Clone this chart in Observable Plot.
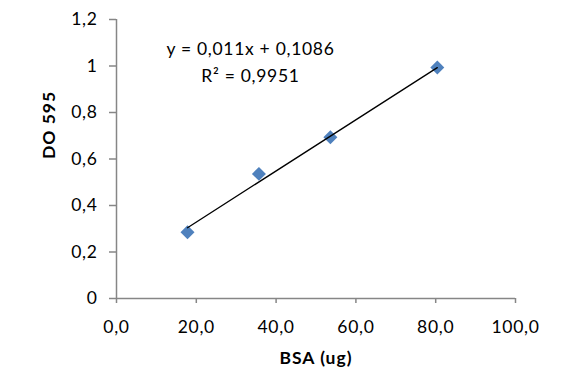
<!DOCTYPE html>
<html>
<head>
<meta charset="utf-8">
<script src="https://cdn.jsdelivr.net/npm/d3@7"></script>
<script src="https://cdn.jsdelivr.net/npm/@observablehq/plot@0.6"></script>
<style>
  html, body { margin: 0; padding: 0; background: #fff; }
  #chart { width: 572px; height: 384px; }
  #chart svg text { letter-spacing: 0.7px; }
  #chart svg .bold-label text { letter-spacing: 1px; }
</style>
</head>
<body>
<div id="chart"></div>
<script>
// Data
const bsa = [17.8, 35.7, 53.6, 80.4];          // x: BSA (ug)
const do595 = [0.285, 0.536, 0.694, 0.994];    // y: DO 595
const xTicks = [0, 20, 40, 60, 80, 100];
const yTicks = [0, 0.2, 0.4, 0.6, 0.8, 1, 1.2];
const slope = 0.011;
const intercept = 0.1086;
const equationText = "y = 0,011x + 0,1086\nR² = 0,9951";
const xLabel = "BSA (ug)";
const yLabel = "DO 595";

const points = bsa.map((x, i) => ({x, y: do595[i]}));
const xMin = d3.min(bsa), xMax = d3.max(bsa);
const trend = [xMin, xMax].map(x => ({x, y: slope * x + intercept}));

const comma = s => s.replace(".", ",");
const fmtX = d => comma(d3.format(".1f")(d));
const fmtY = d => comma(String(+d.toFixed(2)));

const axisGray = "#868686";
const fs = 17.5;

const chart = Plot.plot({
  width: 572,
  height: 384,
  marginLeft: 116,
  marginRight: 57,
  marginTop: 19,
  marginBottom: 86,
  x: {domain: [0, 100]},
  y: {domain: [0, 1.2]},
  style: {fontFamily: "Lato, 'Open Sans', sans-serif", fontSize: fs + "px", color: "#000", background: "#fff"},
  marks: [
    Plot.ruleX([0], {stroke: axisGray, strokeWidth: 1.5}),
    Plot.ruleY([0], {stroke: axisGray, strokeWidth: 1.5}),
    Plot.axisX({ticks: xTicks, tickFormat: fmtX, tickSize: 5, tickPadding: 17, stroke: axisGray, fill: "#000", strokeWidth: 1.5, label: null, fontSize: fs}),
    Plot.axisY({ticks: yTicks, tickFormat: fmtY, tickSize: 7, tickPadding: 12, stroke: axisGray, fill: "#000", strokeWidth: 1.5, label: null, fontSize: fs}),
    Plot.dot(points, {x: "x", y: "y", symbol: "diamond2", r: 6.3, fill: "#4F81BD", stroke: "none"}),
    Plot.line(trend, {x: "x", y: "y", stroke: "#000", strokeWidth: 1.3}),
    Plot.text([equationText], {frameAnchor: "top-left", dx: 134, dy: 40, text: d => d, textAnchor: "middle", lineAnchor: "middle", lineHeight: 1.55, fontSize: fs, fill: "#000"}),
    Plot.text([xLabel], {frameAnchor: "bottom", dy: 60, text: d => d, fontWeight: "bold", fontSize: fs, fill: "#000", lineAnchor: "middle", className: "bold-label"}),
    Plot.text([yLabel], {frameAnchor: "left", dx: -67, rotate: -90, text: d => d, fontWeight: "bold", fontSize: fs, fill: "#000", lineAnchor: "middle", className: "bold-label"})
  ]
});
document.getElementById("chart").appendChild(chart);
</script>
</body>
</html>
